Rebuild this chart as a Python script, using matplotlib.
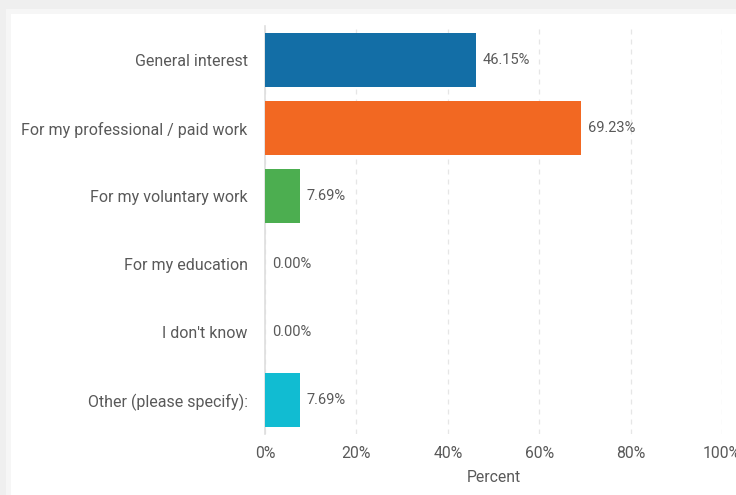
import matplotlib
matplotlib.use("Agg")
import matplotlib.pyplot as plt
from matplotlib.patches import Rectangle
from matplotlib.ticker import FuncFormatter

# ---------------------------------------------------------------------------
# Donnees
# ---------------------------------------------------------------------------
categories = [
    "General interest",
    "For my professional / paid work",
    "For my voluntary work",
    "For my education",
    "I don't know",
    "Other (please specify):",
]
percents = [46.15, 69.23, 7.69, 0.00, 0.00, 7.69]
bar_colors = ["#136ea6", "#f26822", "#4cae50", "#9e9e9e", "#9e9e9e", "#11bcd2"]
x_ticks = [0, 20, 40, 60, 80, 100]
x_label = "Percent"

TEXT = "#595959"
plt.rcParams["font.family"] = ["Roboto", "DejaVu Sans"]

fig = plt.figure(figsize=(7.36, 4.95), dpi=100, facecolor="#efefef")
# carte blanche (capture d'ecran : fond gris + ombre)
fig.patches.append(Rectangle((6 / 736, 0), 1, 1 - 9 / 495, transform=fig.transFigure,
                             facecolor="#f6f6f6", edgecolor="none", zorder=-2))
fig.patches.append(Rectangle((11 / 736, 0), 1, 1 - 14 / 495, transform=fig.transFigure,
                             facecolor="white", edgecolor="none", zorder=-1))

ax = fig.add_axes([265 / 736, 1 - 434 / 495, 457 / 736, 408 / 495])
ax.set_facecolor("none")

y = list(range(len(categories)))
ax.barh(y, percents, height=0.8, color=bar_colors, zorder=3)
for yi, v in zip(y, percents):
    ax.text(v + 1.5, yi, f"{v:.2f}%", va="center", ha="left",
            fontsize=10.5, color=TEXT, zorder=4)

ax.set_xlim(0, 100)
ax.set_ylim(len(categories) - 0.5, -0.5)
ax.set_yticks(y)
ax.set_yticklabels(categories, fontsize=11.5, color=TEXT)
ax.set_xticks(x_ticks)
ax.xaxis.set_major_formatter(FuncFormatter(lambda v, _: f"{v:.0f}%"))
ax.tick_params(axis="x", labelsize=11.3, labelcolor=TEXT, length=0, pad=9)
ax.tick_params(axis="y", length=0, pad=12.5)
ax.set_xlabel(x_label, fontsize=11.3, color=TEXT, labelpad=6)

ax.grid(axis="x", color="#e6e6e6", linestyle=(0, (4, 4)), linewidth=0.9, zorder=0)
for side in ("top", "right", "bottom"):
    ax.spines[side].set_visible(False)
ax.spines["left"].set_color("#dedede")
ax.spines["left"].set_linewidth(1.2)

fig.savefig("out.png", dpi=100, facecolor=fig.get_facecolor())
